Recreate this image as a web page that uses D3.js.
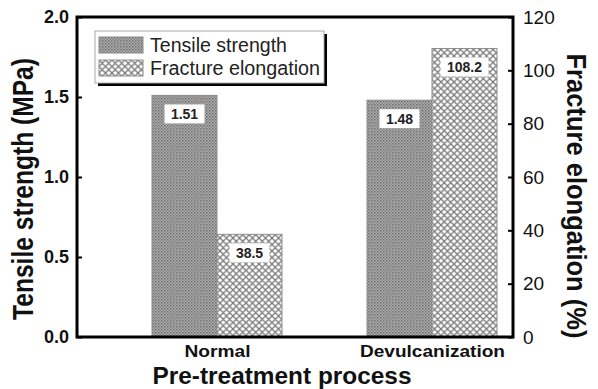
<!DOCTYPE html>
<html>
<head>
<meta charset="utf-8">
<script src="https://cdn.jsdelivr.net/npm/d3@7"></script>
<style>
  body { margin: 0; background: #fff; }
  svg { display: block; font-family: "Liberation Sans", Arial, sans-serif; }
</style>
</head>
<body>
<svg id="chart" width="598" height="389"></svg>
<script>
const categories = ["Normal", "Devulcanization"];
const seriesNames = ["Tensile strength", "Fracture elongation"];
const tensileStrength = [1.51, 1.48];        // MPa, left axis
const fractureElongation = [38.5, 108.2];    // %, right axis
const leftTicks = [0.0, 0.5, 1.0, 1.5, 2.0];
const rightTicks = [0, 20, 40, 60, 80, 100, 120];

const margin = {top: 17, right: 85, bottom: 52, left: 77};
const width = 598 - margin.left - margin.right;
const height = 389 - margin.top - margin.bottom;

const svg = d3.select("#chart");
const defs = svg.append("defs");

// fine gray dot pattern for tensile strength
const p1 = defs.append("pattern")
    .attr("id", "dots")
    .attr("patternUnits", "userSpaceOnUse")
    .attr("width", 3).attr("height", 3);
p1.append("rect").attr("width", 3).attr("height", 3).attr("fill", "#b0b0b0");
p1.append("rect").attr("width", 1.5).attr("height", 1.5).attr("fill", "#6a6a6a");
p1.append("rect").attr("x", 1.5).attr("y", 1.5).attr("width", 1.5).attr("height", 1.5).attr("fill", "#858585");

// cross hatch pattern for fracture elongation
const p2 = defs.append("pattern")
    .attr("id", "hatch")
    .attr("patternUnits", "userSpaceOnUse")
    .attr("width", 6.5).attr("height", 6.5);
p2.append("rect").attr("width", 6.5).attr("height", 6.5).attr("fill", "#fff");
p2.append("path").attr("d", "M0,0 L6.5,6.5 M6.5,0 L0,6.5 M-1,5.5 L1,7.5 M5.5,-1 L7.5,1 M-1,1 L1,-1 M5.5,7.5 L7.5,5.5")
    .attr("stroke", "#7a7a7a").attr("stroke-width", 1.3);

const fills = ["url(#dots)", "url(#hatch)"];

const g = svg.append("g").attr("transform", `translate(${margin.left},${margin.top})`);

const x = d3.scalePoint()
    .domain(categories)
    .range([140, 355]);

const xSub = d3.scaleBand()
    .domain(seriesNames)
    .range([-65, 65])
    .padding(0);

const yLeft = d3.scaleLinear().domain([0, 2.0]).range([height, 0]);
const yRight = d3.scaleLinear().domain([0, 120]).range([height, 0]);

const rows = categories.map((c, i) => [
    {cat: c, series: seriesNames[0], value: tensileStrength[i], y: yLeft, label: d3.format(".2f")(tensileStrength[i]), fill: fills[0]},
    {cat: c, series: seriesNames[1], value: fractureElongation[i], y: yRight, label: d3.format(".1f")(fractureElongation[i]), fill: fills[1]}
]).flat();

// bars
g.selectAll(".bar")
    .data(rows)
    .enter().append("rect")
    .attr("class", "bar")
    .attr("x", d => x(d.cat) + xSub(d.series))
    .attr("y", d => d.y(d.value))
    .attr("width", xSub.bandwidth())
    .attr("height", d => height - d.y(d.value))
    .attr("fill", d => d.fill)
    .attr("stroke", "#8c8c8c")
    .attr("stroke-width", 1);

// value labels in white boxes
const lab = g.selectAll(".vlab")
    .data(rows)
    .enter().append("g")
    .attr("class", "vlab")
    .attr("transform", d => `translate(${x(d.cat) + xSub(d.series) + xSub.bandwidth() / 2},${d.y(d.value) + 24})`);

lab.append("rect")
    .attr("x", d => -(d.label.length * 4 + 4))
    .attr("y", -15)
    .attr("width", d => d.label.length * 8 + 8)
    .attr("height", 19)
    .attr("fill", "#fff");

lab.append("text")
    .attr("text-anchor", "middle")
    .attr("font-size", 14)
    .attr("font-weight", "bold")
    .attr("fill", "#222")
    .text(d => d.label);

// frame
g.append("rect")
    .attr("width", width).attr("height", height)
    .attr("fill", "none")
    .attr("stroke", "#000")
    .attr("stroke-width", 3);

// left axis
const axL = g.append("g")
    .call(d3.axisLeft(yLeft).tickValues(leftTicks).tickFormat(d3.format(".1f")).tickSize(-5).tickPadding(8));
axL.select(".domain").remove();
axL.selectAll("line").attr("stroke-width", 2);
axL.selectAll("text")
    .attr("font-size", 18)
    .attr("font-weight", "bold")
    .attr("font-family", "Liberation Sans, Arial, sans-serif")
    .attr("fill", "#111");

// right axis
const axR = g.append("g")
    .attr("transform", `translate(${width},0)`)
    .call(d3.axisRight(yRight).tickValues(rightTicks).tickSize(-5).tickPadding(10));
axR.select(".domain").remove();
axR.selectAll("line").attr("stroke-width", 2);
axR.selectAll("text")
    .attr("font-size", 19)
    .attr("font-family", "Liberation Sans, Arial, sans-serif")
    .attr("fill", "#111");

// bottom categories
const catWidths = {"Normal": 66, "Devulcanization": 145};
const axB = g.append("g")
    .attr("transform", `translate(0,${height})`)
    .call(d3.axisBottom(x).tickSize(0).tickPadding(8));
axB.select(".domain").remove();
axB.selectAll("text")
    .attr("font-size", 17)
    .attr("font-family", "Liberation Sans, Arial, sans-serif")
    .attr("font-weight", "bold")
    .attr("fill", "#111")
    .attr("y", 20)
    .attr("dy", null)
    .attr("textLength", d => catWidths[d])
    .attr("lengthAdjust", "spacingAndGlyphs");

// axis titles
svg.append("text")
    .attr("transform", "translate(33,189) rotate(-90)")
    .attr("text-anchor", "middle")
    .attr("font-size", 29)
    .attr("font-weight", "bold")
    .attr("fill", "#111")
    .attr("textLength", 262)
    .attr("lengthAdjust", "spacingAndGlyphs")
    .text("Tensile strength (MPa)");

svg.append("text")
    .attr("transform", "translate(567,196) rotate(90)")
    .attr("text-anchor", "middle")
    .attr("font-size", 28)
    .attr("font-weight", "bold")
    .attr("fill", "#111")
    .attr("textLength", 285)
    .attr("lengthAdjust", "spacingAndGlyphs")
    .text("Fracture elongation (%)");

svg.append("text")
    .attr("x", 282)
    .attr("y", 384)
    .attr("text-anchor", "middle")
    .attr("font-size", 23)
    .attr("font-weight", "bold")
    .attr("fill", "#111")
    .attr("textLength", 259)
    .attr("lengthAdjust", "spacingAndGlyphs")
    .text("Pre-treatment process");

// legend
const legendWidths = [137, 170];
const legend = svg.append("g").attr("transform", "translate(95,31)");
legend.append("rect")
    .attr("x", 3).attr("y", 3)
    .attr("width", 229).attr("height", 52)
    .attr("fill", "#000");
legend.append("rect")
    .attr("width", 229).attr("height", 52)
    .attr("fill", "#fff")
    .attr("stroke", "#aaa")
    .attr("stroke-width", 1);

const li = legend.selectAll(".li")
    .data(seriesNames)
    .enter().append("g")
    .attr("transform", (d, i) => `translate(4,${6 + i * 23})`);
li.append("rect")
    .attr("width", 44).attr("height", 16)
    .attr("fill", (d, i) => fills[i])
    .attr("stroke", "#8c8c8c");
li.append("text")
    .attr("x", 51).attr("y", 15)
    .attr("font-size", 20)
    .attr("fill", "#222")
    .attr("textLength", (d, i) => legendWidths[i])
    .attr("lengthAdjust", "spacingAndGlyphs")
    .text(d => d);
</script>
</body>
</html>
